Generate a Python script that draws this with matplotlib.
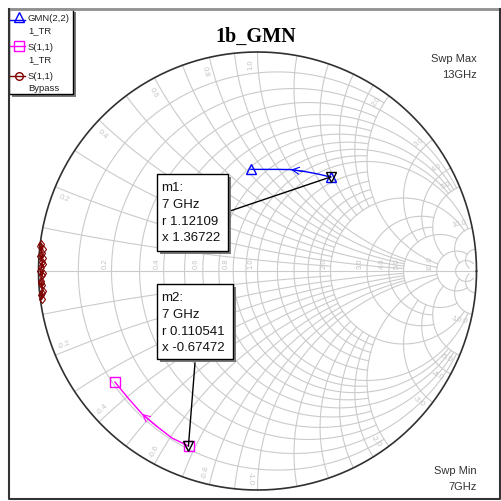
import numpy as np
import matplotlib
matplotlib.use("Agg")
import matplotlib.pyplot as plt
from matplotlib.patches import Rectangle

# ---------------- data (reflection coefficient) ----------------
gmn_re = [0.334, 0.276, 0.217, 0.153, 0.094, 0.030, -0.030]
gmn_im = [0.429, 0.443, 0.454, 0.463, 0.464, 0.464, 0.464]

s11_tr_re = [-0.315, -0.390, -0.459, -0.527, -0.591, -0.651]
s11_tr_im = [-0.799, -0.763, -0.710, -0.653, -0.580, -0.507]

byp_re = [-0.988, -0.980, -0.992, -0.984, -0.980, -0.993, -0.982, -0.988, -0.980,
          -0.993, -0.984, -0.980, -0.990, -0.982, -0.988, -0.979, -0.990, -0.983, -0.986]
byp_im = [0.125, 0.100, 0.112, 0.080, 0.060, 0.070, 0.040, 0.020, 0.030,
          0.000, -0.020, -0.010, -0.045, -0.065, -0.055, -0.090, -0.110, -0.100, -0.130]

legend_labels = [("GMN(2,2)", "1_TR"), ("S(1,1)", "1_TR"), ("S(1,1)", "Bypass")]
trace_colors = ["#0000ff", "#ff00ff", "#800000"]

marker_names = ["m1", "m2"]
marker_freq = ["7 GHz", "7 GHz"]
marker_r = [1.12109, 0.110541]
marker_x = [1.36722, -0.67472]

sweep_max = "13GHz"
sweep_min = "7GHz"
title = "1b_GMN"

r_labels = [0.2, 0.4, 0.6, 0.8, 1.0, 2.0, 3.0, 4.0, 5.0, 10.0]
x_labels = [0.2, 0.4, 0.6, 0.8, 1.0, 2.0, 3.0, 4.0, 5.0, 10.0]

# grid values with clipping limits
r_grid = [(0.1, 2), (0.2, 5), (0.3, 2), (0.4, 5), (0.5, 2), (0.6, 5), (0.7, 2), (0.8, 5),
          (0.9, 2), (1.0, 10), (1.2, 2), (1.4, 2), (1.6, 2), (1.8, 2), (2.0, 10),
          (3.0, 5), (4.0, 5), (5.0, 10), (10.0, 20), (20.0, 50)]
x_grid = [(0.1, 2), (0.2, 5), (0.3, 2), (0.4, 5), (0.5, 2), (0.6, 5), (0.7, 2), (0.8, 5),
          (0.9, 2), (1.0, 10), (1.2, 2), (1.4, 2), (1.6, 2), (1.8, 2), (2.0, 10),
          (3.0, 5), (4.0, 5), (5.0, 10), (10.0, 20), (20.0, 50)]

# ---------------- layout helpers ----------------
W, H = 501, 502
CX, CY, RAD = 257.5, 272.0, 219.0


def P(px, py):
    return ((px - CX) / RAD, (CY - py) / RAD)


def z2g(z):
    return (z - 1) / (z + 1)


fig = plt.figure(figsize=(W / 100, H / 100), dpi=100)
ax = fig.add_axes([0, 0, 1, 1])
ax.set_xlim(P(0, 0)[0], P(W, 0)[0])
ax.set_ylim(P(0, H)[1], P(0, 0)[1])
ax.axis("off")

GRID = "#cbcbcb"
LBL = "#c4c4c4"

# grid: resistance circles
for r, xmax in r_grid:
    t = np.linspace(-np.arcsinh(xmax), np.arcsinh(xmax), 800)
    g = z2g(r + 1j * np.sinh(t))
    ax.plot(g.real, g.imag, color=GRID, lw=0.8, zorder=1)
# grid: reactance arcs
for x, rmax in x_grid:
    t = np.linspace(0, np.arcsinh(rmax), 600)
    for s in (1, -1):
        g = z2g(np.sinh(t) + 1j * s * x)
        ax.plot(g.real, g.imag, color=GRID, lw=0.8, zorder=1)
ax.plot([-1, 1], [0, 0], color=GRID, lw=0.8, zorder=1)
th = np.linspace(0, 2 * np.pi, 720)
ax.plot(np.cos(th), np.sin(th), color="#303030", lw=1.2, zorder=2)

# grid labels
for r in r_labels:
    gx = z2g(r).real
    ax.text(gx - 6.5 / RAD, 8 / RAD, f"{r:.1f}", rotation=90, fontsize=5.5, color=LBL,
            ha="center", va="center", family="Liberation Sans", zorder=1)
for x in x_labels:
    for s in (1, -1):
        g = z2g(1j * s * x)
        ang = np.angle(g)
        rr = 1 - 12 / RAD
        tang = s * 7 / RAD
        px = rr * np.cos(ang) - tang * np.sin(ang)
        py = rr * np.sin(ang) + tang * np.cos(ang)
        deg = np.degrees(ang)
        if deg > 90:
            deg -= 180
        elif deg < -90:
            deg += 180
        lab = f"{s * x:.1f}"
        ax.text(px, py, lab, rotation=deg, fontsize=5.5, color=LBL, ha="center",
                va="center", family="Liberation Sans", zorder=1, rotation_mode="anchor")

# ---------------- traces ----------------
ax.plot(gmn_re, gmn_im, color=trace_colors[0], lw=1.0, zorder=4)
ax.plot([gmn_re[0], gmn_re[-1]], [gmn_im[0], gmn_im[-1]], ls="none", marker="^", ms=7.5,
        mfc="none", mec=trace_colors[0], mew=1.0, zorder=5)
ax.annotate("", xy=(gmn_re[3], gmn_im[3]), xytext=(gmn_re[2], gmn_im[2]),
            arrowprops=dict(arrowstyle="->,head_length=0.5,head_width=0.25",
                            color=trace_colors[0], lw=0.8, shrinkA=0, shrinkB=0), zorder=5)

ax.plot(s11_tr_re, s11_tr_im, color=trace_colors[1], lw=1.0, zorder=4)
ax.plot([s11_tr_re[0], s11_tr_re[-1]], [s11_tr_im[0], s11_tr_im[-1]], ls="none", marker="s",
        ms=7.5, mfc="none", mec=trace_colors[1], mew=1.0, zorder=5)
ax.annotate("", xy=(s11_tr_re[3], s11_tr_im[3]), xytext=(s11_tr_re[2], s11_tr_im[2]),
            arrowprops=dict(arrowstyle="->,head_length=0.5,head_width=0.25",
                            color=trace_colors[1], lw=0.8, shrinkA=0, shrinkB=0), zorder=5)

ax.plot(byp_re, byp_im, color=trace_colors[2], lw=1.0, marker="d", ms=4.5, mfc="none",
        mec=trace_colors[2], mew=0.8, zorder=4)

# ---------------- markers and marker boxes ----------------
mg = [z2g(r + 1j * x) for r, x in zip(marker_r, marker_x)]
for g in mg:
    ax.plot([g.real], [g.imag], marker="v", ms=7.5, mfc="none", mec="black", mew=1.0,
            ls="none", zorder=6)


def shadow_box(x0, y0, x1, y1, z=7):
    a = P(x0 + 3, y1 + 3)
    ax.add_patch(Rectangle(a, (x1 - x0) / RAD, (y1 - y0) / RAD, facecolor="#7a7a7a",
                           edgecolor="none", zorder=z))
    b = P(x0, y1)
    ax.add_patch(Rectangle(b, (x1 - x0) / RAD, (y1 - y0) / RAD, facecolor="white",
                           edgecolor="black", lw=1.0, zorder=z + 0.1))


boxes = [(156.7, 175, 228.3, 251.7), (156.7, 285, 232.7, 360)]
tops = [188.3, 298.3]
leaders = [(231.5, 211.5), (195, 364)]
for i in range(2):
    x0, y0, x1, y1 = boxes[i]
    lx, ly = P(*leaders[i])
    ax.plot([lx, mg[i].real], [ly, mg[i].imag], color="black", lw=1.0, zorder=6)
    shadow_box(x0, y0, x1, y1)
    lines = [f"{marker_names[i]}:", marker_freq[i], f"r {marker_r[i]}", f"x {marker_x[i]}"]
    for k, s in enumerate(lines):
        ax.text(*P(161.5, tops[i] + k * 16.7), s, fontsize=9.5, family="Liberation Sans",
                ha="left", va="center", color="#111111", zorder=8)

# ---------------- legend ----------------
shadow_box(9, 10, 73, 95, z=7)
sym_y = [17.5, 47, 76.5]
line_y = [20.5, 47, 76.5]
txt_y = [19, 47.3, 77]
mk = ["^", "s", "o"]
for i in range(3):
    xa, ya = P(10.5, line_y[i])
    xb, _ = P(25.5, line_y[i])
    ax.plot([xa, xb], [ya, ya], color=trace_colors[i], lw=1.0, zorder=9)
    ax.plot(*P(19, sym_y[i]), marker=mk[i], ms=7 if i < 2 else 5.5, mfc="none",
            mec=trace_colors[i], mew=1.0, zorder=9, ls="none")
    ax.text(*P(27.5, txt_y[i]), legend_labels[i][0],
            fontsize=6.8, family="Liberation Sans", ha="left", va="center",
            color="#222222", zorder=9)
    ax.text(*P(28, txt_y[i] + 12), legend_labels[i][1],
            fontsize=6.8, family="Liberation Sans", ha="left", va="center",
            color="#222222", zorder=9)

# ---------------- texts ----------------
ax.text(*P(256, 41.5), title, fontsize=14.5, family="Liberation Serif", weight="bold",
        ha="center", va="baseline", color="black")
ax.text(*P(477, 59.5), "Swp Max", fontsize=8, family="Liberation Sans", ha="right",
        va="center", color="#333333")
ax.text(*P(477, 75.5), sweep_max, fontsize=8, family="Liberation Sans", ha="right",
        va="center", color="#333333")
ax.text(*P(477, 471.5), "Swp Min", fontsize=8, family="Liberation Sans", ha="right",
        va="center", color="#333333")
ax.text(*P(477, 487.5), sweep_min, fontsize=8, family="Liberation Sans", ha="right",
        va="center", color="#333333")

# ---------------- frame ----------------
fx0, fy0, fx1, fy1 = 9, 10, 500, 500
ax.plot(*zip(P(fx0, fy0), P(fx1, fy0)), color="#909090", lw=2.0, zorder=10)
ax.plot(*zip(P(fx0, fy0), P(fx0, fy1), P(fx1, fy1), P(fx1, fy0)), color="#333333",
        lw=1.5, zorder=10)

fig.savefig("out.png", dpi=100)
